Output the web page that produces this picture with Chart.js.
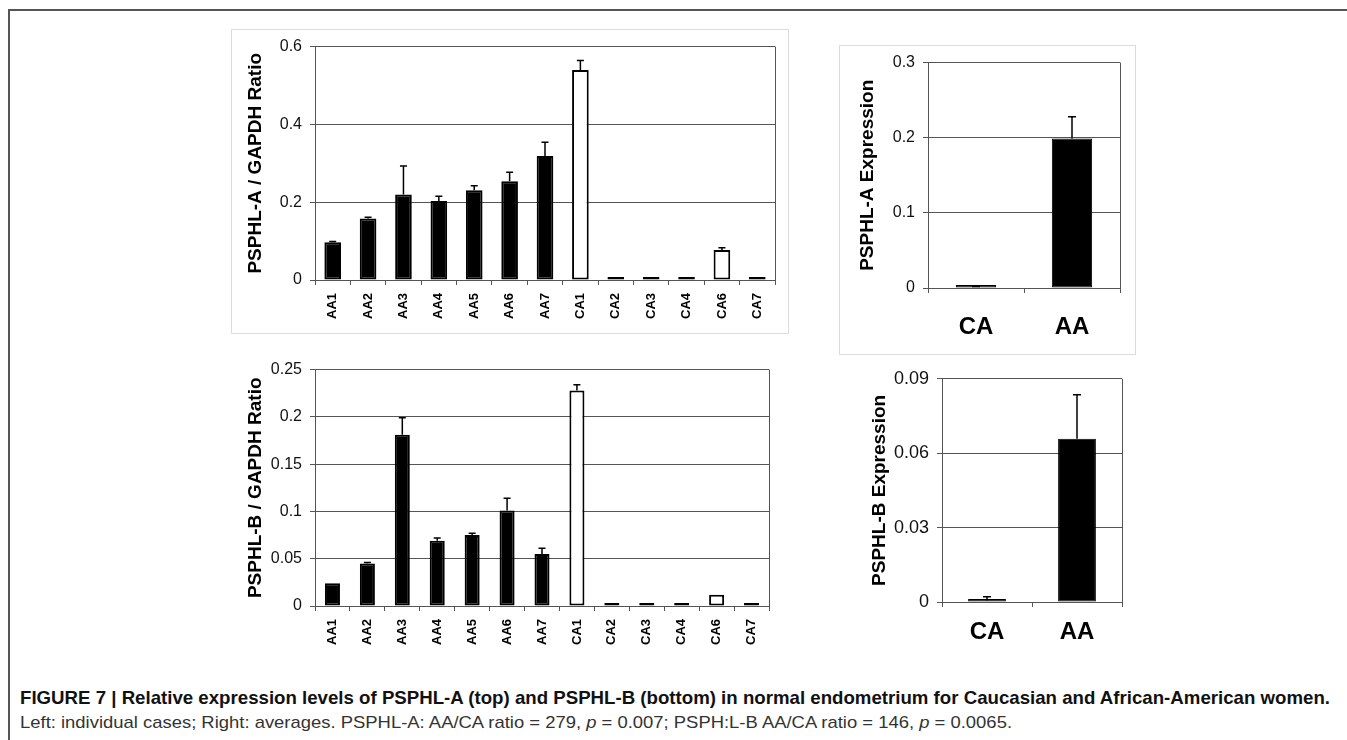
<!DOCTYPE html>
<html>
<head>
<meta charset="utf-8">
<script src="https://cdn.jsdelivr.net/npm/chart.js@4.4.0/dist/chart.umd.min.js"></script>
<style>
  body { margin: 0; width: 1347px; height: 740px; overflow: hidden; position: relative; background: #fff;
         font-family: "Liberation Sans", Arial, sans-serif; }
  .outer-top { position: absolute; left: 9px; top: 9px; width: 1338px; height: 0; border-top: 2px solid #555; }
  .outer-left { position: absolute; left: 8px; top: 9px; width: 0; height: 731px; border-left: 2px solid #555; }
  .frame { position: absolute; border: 1px solid #dcdcdc; box-sizing: border-box; }
  .wrap { position: absolute; }
  .cap { position: absolute; left: 20px; white-space: nowrap; transform-origin: 0 50%;
         font-family: "Liberation Sans Narrow", "Liberation Sans", Arial, sans-serif; }
  #cap1 { top: 687px; font-size: 19px; font-weight: bold; color: #111; }
  #cap2 { top: 713px; font-size: 17px; color: #333; }
</style>
</head>
<body>
<div class="outer-top"></div>
<div class="outer-left"></div>

<div class="frame" style="left:231px;top:29px;width:558px;height:305px"></div>
<div class="frame" style="left:839px;top:45px;width:297px;height:310px"></div>

<div class="wrap" style="left:231px;top:29px;width:558px;height:305px"><canvas id="chartA"></canvas></div>
<div class="wrap" style="left:231px;top:352px;width:558px;height:306px"><canvas id="chartB"></canvas></div>
<div class="wrap" style="left:839px;top:45px;width:297px;height:310px"><canvas id="chartC"></canvas></div>
<div class="wrap" style="left:850px;top:360px;width:290px;height:300px"><canvas id="chartD"></canvas></div>

<div class="cap" id="cap1">FIGURE 7 | Relative expression levels of PSPHL-A (top) and PSPHL-B (bottom) in normal endometrium for Caucasian and African-American women.</div>
<div class="cap" id="cap2">Left: individual cases; Right: averages. PSPHL-A: AA/CA ratio = 279, <i>p</i> = 0.007; PSPH:L-B AA/CA ratio = 146, <i>p</i> = 0.0065.</div>

<script>
// individual cases
const caseLabels = ['AA1', 'AA2', 'AA3', 'AA4', 'AA5', 'AA6', 'AA7', 'CA1', 'CA2', 'CA3', 'CA4', 'CA6', 'CA7'];
const psphlA    = [0.097, 0.158, 0.220, 0.203, 0.231, 0.254, 0.319, 0.540, 0.004, 0.004, 0.004, 0.077, 0.004];
const psphlAErr = [0.002, 0.003, 0.073, 0.012, 0.011, 0.023, 0.035, 0.024, 0, 0, 0, 0.006, 0];
const psphlB    = [0.024, 0.045, 0.181, 0.069, 0.075, 0.101, 0.055, 0.228, 0.001, 0.001, 0.001, 0.012, 0.001];
const psphlBErr = [0, 0.001, 0.018, 0.003, 0.002, 0.013, 0.006, 0.006, 0, 0, 0, 0, 0];

// group averages
const groupLabels = ['CA', 'AA'];
const avgA    = [0.001, 0.199];
const avgAErr = [0.001, 0.029];
const avgB    = [0.0006, 0.0658];
const avgBErr = [0.0015, 0.0178];

// y tick values
const ticksA = [0, 0.2, 0.4, 0.6];
const ticksB = [0, 0.05, 0.1, 0.15, 0.2, 0.25];
const ticksC = [0, 0.1, 0.2, 0.3];
const ticksD = [0, 0.03, 0.06, 0.09];

Chart.defaults.font.family = '"Liberation Sans", Arial, sans-serif';
Chart.defaults.color = '#111';

const AXIS = '#555';

// upward error bars with a small cap
const errorBars = {
  id: 'errbars',
  afterDatasetsDraw(chart, args, opts) {
    const { ctx, scales: { x, y } } = chart;
    const vals = chart.data.datasets[0].data;
    ctx.save();
    ctx.strokeStyle = '#000';
    ctx.lineWidth = 1.5;
    opts.values.forEach((e, i) => {
      if (!e) return;
      const px = x.getPixelForValue(i);
      const y0 = y.getPixelForValue(vals[i]);
      const y1 = y.getPixelForValue(vals[i] + e);
      ctx.beginPath();
      ctx.moveTo(px, y0);
      ctx.lineTo(px, y1);
      ctx.moveTo(px - opts.cap, y1);
      ctx.lineTo(px + opts.cap, y1);
      ctx.stroke();
    });
    ctx.restore();
  }
};

// right edge of the plot box
const plotBorder = {
  id: 'plotBorder',
  afterDraw(chart) {
    const { ctx, chartArea: a } = chart;
    ctx.save();
    ctx.strokeStyle = AXIS;
    ctx.lineWidth = 1;
    ctx.beginPath();
    ctx.moveTo(Math.round(a.right) + 0.5, a.top);
    ctx.lineTo(Math.round(a.right) + 0.5, a.bottom);
    ctx.stroke();
    ctx.restore();
  }
};

function makeChart(id, cfg) {
  new Chart(document.getElementById(id), {
    type: 'bar',
    data: {
      labels: cfg.labels,
      datasets: [{
        data: cfg.values,
        backgroundColor: cfg.colors,
        borderColor: '#000',
        borderWidth: cfg.borders,
        borderSkipped: false,
        minBarLength: 3,
        barPercentage: cfg.barPct,
        categoryPercentage: 1
      }]
    },
    options: {
      responsive: true,
      maintainAspectRatio: false,
      animation: false,
      layout: { padding: { top: cfg.padTop, right: cfg.padRight, left: 0, bottom: 0 } },
      plugins: {
        legend: { display: false },
        tooltip: { enabled: false },
        errbars: { values: cfg.errors, cap: cfg.cap }
      },
      scales: {
        x: {
          grid: { offset: true, drawOnChartArea: false, tickLength: 5, color: AXIS, tickColor: AXIS },
          border: { color: AXIS },
          ticks: {
            autoSkip: false,
            minRotation: cfg.rot, maxRotation: cfg.rot,
            padding: cfg.xPad,
            color: '#000',
            font: { size: cfg.xFont, weight: 'bold' }
          },
          afterFit: s => { s.height = cfg.xHeight; }
        },
        y: {
          min: 0,
          max: cfg.ticks[cfg.ticks.length - 1],
          afterBuildTicks: s => { s.ticks = cfg.ticks.map(v => ({ value: v })); },
          grid: { color: AXIS, tickLength: 5, tickColor: AXIS },
          border: { color: AXIS },
          ticks: {
            padding: 8, color: '#111', font: { size: cfg.yFont },
            callback: v => String(Number(v.toFixed(4)))
          },
          title: {
            display: true,
            text: cfg.title,
            color: '#000',
            font: { size: 19, weight: 'bold' },
            padding: { top: cfg.titlePad, bottom: 0 }
          },
          afterFit: s => { s.width = cfg.yWidth; }
        }
      }
    },
    plugins: [errorBars, plotBorder]
  });
}

// black for the AA cases and the near-zero CA cases, open bars otherwise
const colorsFor = vals => caseLabels.map((l, i) => (l.startsWith('AA') || vals[i] < 0.01) ? '#000' : '#fff');

makeChart('chartA', {
  labels: caseLabels, values: psphlA, errors: psphlAErr, colors: colorsFor(psphlA), borders: 2,
  barPct: 0.47, cap: 3.5, ticks: ticksA, title: 'PSPHL-A / GAPDH Ratio',
  padTop: 16, padRight: 14, yWidth: 84, xHeight: 54, rot: 90, xPad: 8, xFont: 13, yFont: 16, titlePad: 13
});

makeChart('chartB', {
  labels: caseLabels, values: psphlB, errors: psphlBErr, colors: colorsFor(psphlB), borders: 2,
  barPct: 0.43, cap: 3.5, ticks: ticksB, title: 'PSPHL-B / GAPDH Ratio',
  padTop: 16, padRight: 20, yWidth: 84, xHeight: 52, rot: 90, xPad: 8, xFont: 13, yFont: 16, titlePad: 13
});

makeChart('chartC', {
  labels: groupLabels, values: avgA, errors: avgAErr, colors: ['#000', '#000'], borders: 1,
  barPct: 0.42, cap: 4, ticks: ticksC, title: 'PSPHL-A Expression',
  padTop: 17, padRight: 16, yWidth: 89, xHeight: 67, rot: 0, xPad: 20, xFont: 24, yFont: 16, titlePad: 17
});

makeChart('chartD', {
  labels: groupLabels, values: avgB, errors: avgBErr, colors: ['#000', '#000'], borders: 1,
  barPct: 0.42, cap: 4, ticks: ticksD, title: 'PSPHL-B Expression',
  padTop: 16, padRight: 18, yWidth: 92, xHeight: 58, rot: 0, xPad: 11, xFont: 24, yFont: 18, titlePad: 18
});

// squeeze caption lines to the printed widths
function fitCaption(id, target) {
  const el = document.getElementById(id);
  const w = el.getBoundingClientRect().width;
  el.style.transform = 'scaleX(' + (target / w) + ')';
}
fitCaption('cap1', 1310);
fitCaption('cap2', 992);
</script>
</body>
</html>
